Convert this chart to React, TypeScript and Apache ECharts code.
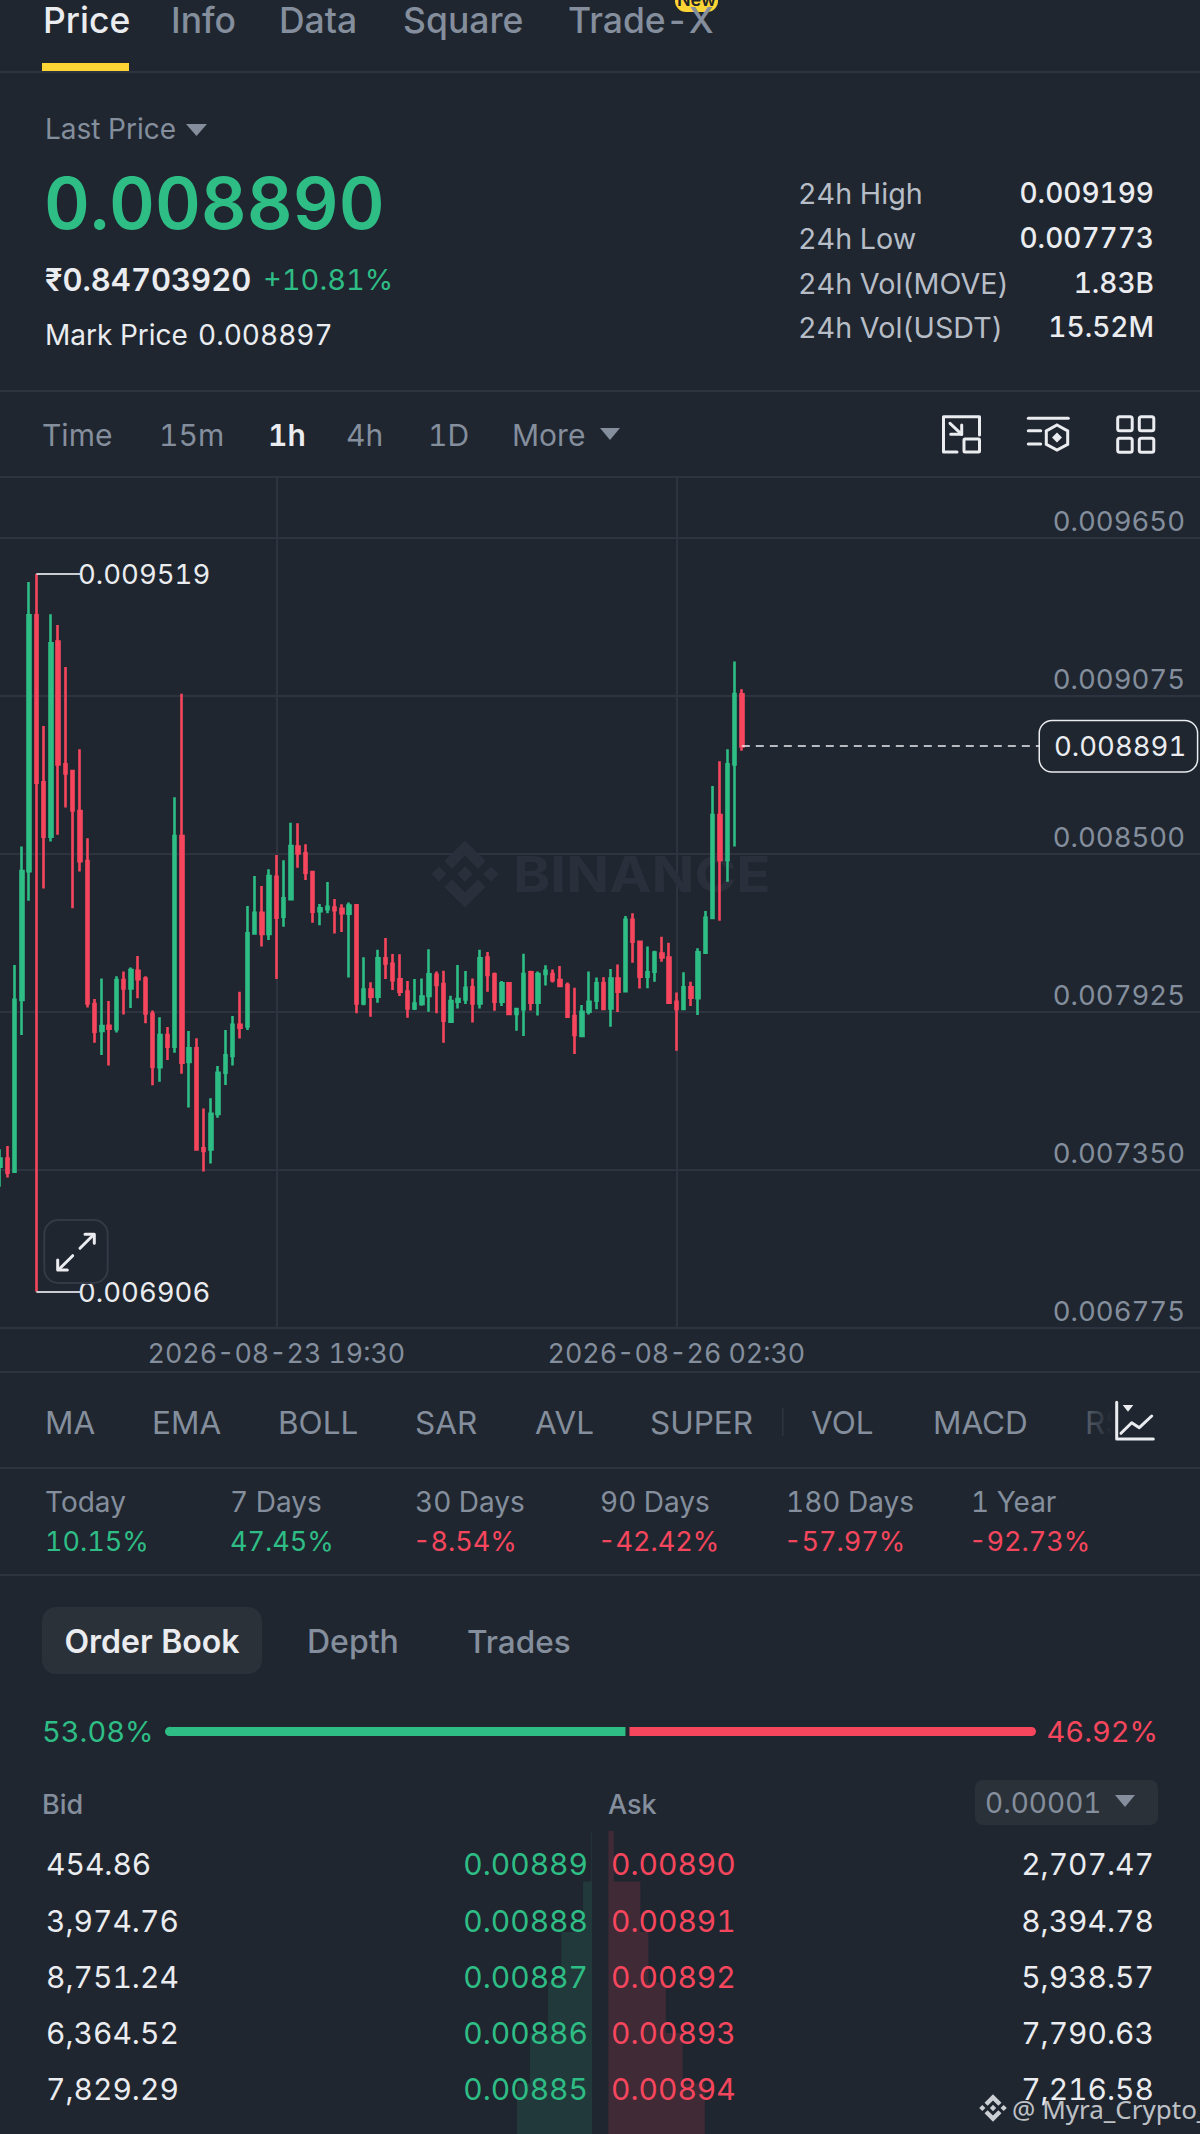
import React, { useEffect, useRef } from "react";
import * as echarts from "echarts";

const BG = "#1F2630";
const LINE = "#2D3440";
const GREEN = "#2EBD85";
const RED = "#F6465D";
const WHITE = "#EAECEF";
const GRAY = "#848E9C";
const SOFT = "#B7BDC6";
const CHIP = "#2B3139";
const FONT = "Inter";

const UNIT = 1e-6;
const OPENS = [7361,7391,7343,7968,8436,9368,8760,8562,9272,8825,8801,8655,8473,7953,7855,7874,7861,8040,8010,8074,8046,7917,7723,7840,7798,8564,7742,7792,7428,7424,7553,7703,7764,7877,7871,8210,8285,8208,8416,8271,8334,8526,8501,8433,8291,8298,8304,8299,8282,8312,7955,8006,7980,8119,8099,8043,7998,7937,7953,7982,8059,8026,7889,7961,7970,8014,7955,8122,8061,7961,8028,7917,7934,8068,7958,8062,8062,8040,8022,7909,7837,7925,7965,8028,7937,8046,8000,8259,8179,8052,8071,8137,8122,7961,7935,8014,7974,8140,8266,8641,8477,8825,9080];
const CLOSES = [7391,7339,7968,8437,9368,8758,8562,9266,8825,8792,8657,8473,7955,7852,7873,7863,8040,8010,8077,8043,7919,7725,7840,7798,8564,7739,7792,7424,7418,7553,7703,7766,7877,7867,8210,8285,8208,8419,8267,8338,8528,8501,8431,8289,8301,8307,8294,8283,8311,7955,8006,7980,8119,8101,8040,7998,7937,7955,7980,8061,8022,7892,7964,7971,8012,7955,8119,8059,7961,8028,7917,7935,8062,7958,8062,8074,8040,8019,7907,7840,7925,7961,8028,7935,8046,7998,8259,8180,8052,8068,8140,8122,7958,7935,8014,7976,8141,8267,8641,8477,8825,9081,8890];
const LOWS = [7288,7322,7343,7840,8329,6906,8373,8544,8569,8668,8301,8435,7940,7812,7767,7729,7849,7915,7938,7974,7883,7657,7670,7749,7776,7699,7576,7424,7343,7373,7539,7658,7729,7827,7858,8210,8162,8186,8044,8234,8334,8449,8404,8249,8240,8283,8210,8215,8049,7919,7948,7907,7958,8044,8004,7982,7903,7931,7947,7925,7919,7812,7886,7937,7953,7886,7937,7998,7928,7946,7913,7856,7837,7929,7911,8020,8031,8016,7907,7771,7834,7915,7934,7934,7870,7924,7998,8103,8009,8010,8034,8107,7953,7783,7934,7946,7913,8140,8264,8256,8398,8526,8875];
const HIGHS = [7424,7436,8095,8526,9489,9519,8965,9371,9332,9179,8801,8880,8556,7971,8046,7964,8054,8071,8086,8128,8054,7929,7905,7869,8705,9082,7855,7828,7573,7610,7727,7858,7909,7998,8310,8419,8382,8443,8495,8476,8613,8611,8534,8435,8317,8397,8335,8316,8322,8313,8123,8032,8150,8193,8135,8134,8037,8044,8046,8152,8071,8074,7983,8095,8073,8046,8150,8142,8068,8037,8032,7937,8136,8074,8071,8094,8079,8091,8031,8012,7949,8071,8049,8050,8080,8097,8273,8283,8180,8162,8147,8198,8176,7995,8069,8034,8156,8291,8746,8836,8880,9199,9098];

const Y_TICKS = [0.00965, 0.009075, 0.0085, 0.007925, 0.00735, 0.006775];
const Y_MIN = 0.006775;
const Y_MAX = 0.0098683;
const TIME_TICKS = ["2026-08-23 19:30", "2026-08-26 02:30"];
const FIRST_CANDLE_UTC = Date.UTC(2026, 7, 22, 5, 30);
const AXIS_SLOTS = 166;
const LAST_PRICE = 0.008891;
const HIGH_MARK = 0.009519;
const LOW_MARK = 0.006906;

const MAIN_TABS: [string, number][] = [["Price", 43], ["Info", 171], ["Data", 279], ["Square", 403], ["Trade-X", 568]];
const STAT_LABELS = ["24h High", "24h Low", "24h Vol(MOVE)", "24h Vol(USDT)"];
const STAT_VALUES = ["0.009199", "0.007773", "1.83B", "15.52M"];
const INTERVALS: [string, number][] = [["Time", 42], ["15m", 159], ["1h", 268], ["4h", 346], ["1D", 428], ["More", 512]];
const INDICATORS: [string, number][] = [["MA", 45], ["EMA", 152], ["BOLL", 278], ["SAR", 415], ["AVL", 535], ["SUPER", 650], ["VOL", 811], ["MACD", 933]];
const PERIODS = ["Today", "7 Days", "30 Days", "90 Days", "180 Days", "1 Year"];
const PERIOD_X = [45, 230, 415, 600, 786, 971];
const PERIOD_VALUES = ["10.15%", "47.45%", "-8.54%", "-42.42%", "-57.97%", "-92.73%"];
const BOOK_SPLIT = [53.08, 46.92];
const BID_QTY = ["454.86", "3,974.76", "8,751.24", "6,364.52", "7,829.29"];
const BID_PRICE = ["0.00889", "0.00888", "0.00887", "0.00886", "0.00885"];
const ASK_PRICE = ["0.00890", "0.00891", "0.00892", "0.00893", "0.00894"];
const ASK_QTY = ["2,707.47", "8,394.78", "5,938.57", "7,790.63", "7,216.58"];
const BOOK_ROWS = ["r1", "r2", "r3", "r4", "r5", "r6"];
const BID_DEPTH = [300, 3900, 13300, 19100, 27000, 32600];
const ASK_DEPTH = [2350, 13900, 17400, 25000, 32300, 41900];
const ROW_Y = [1864, 1921, 1977, 2033, 2089];

echarts.graphic.registerShape(
  "bnb",
  echarts.graphic.extendPath(
    "M12.116 14.404L16 10.52l3.886 3.886 2.26-2.26L16 6l-6.144 6.144 2.26 2.26zM6 16l2.26-2.26L10.52 16l-2.26 2.26L6 16zm6.116 1.596L16 21.48l3.886-3.886 2.26 2.259L16 26l-6.144-6.144-.003-.003 2.263-2.257zM21.48 16l2.26-2.26L26 16l-2.26 2.26L21.48 16zm-3.188-.002h.002V16L16 18.294l-2.291-2.29-.004-.004.004-.003.401-.402.195-.195L16 13.706l2.293 2.293z",
    {}
  )
);

function txt(text: string, x: number, y: number, fill: string, fontSize: number, fontWeight: number = 400, align: string = "left", family: string = FONT) {
  return {
    type: "text", x, y, z: 22,
    style: { text, fill, fontSize, fontWeight, fontFamily: family, align, textAlign: align, verticalAlign: "middle", textVerticalAlign: "middle" },
  };
}
function box(x: number, y: number, width: number, height: number, fill: string, r: number = 0, strokeColor: string = "none", lineWidth: number = 0) {
  return { type: "rect", z: 20, shape: { x, y, width, height, r }, style: { fill, stroke: strokeColor, lineWidth } };
}
function stroke(points: number[][], color: string = WHITE, lineWidth: number = 3) {
  return { type: "polyline", z: 21, shape: { points }, style: { stroke: color, lineWidth, fill: "none", lineCap: "round", lineJoin: "round" } };
}
function tri(x: number, y: number, w: number, h: number, fill: string) {
  return { type: "polygon", z: 21, shape: { points: [[x, y], [x + w, y], [x + w / 2, y + h]] }, style: { fill } };
}
function divider(y: number) {
  return box(0, y - 1, 1200, 2, LINE);
}

function buildFront(): any[] {
  const els: any[] = [];
  MAIN_TABS.forEach(([t, x], i) => els.push(txt(t, x, 20, i === 0 ? WHITE : GRAY, 35.5, 500)));
  els.push(box(42, 63, 87, 9, "#FCD535"));
  els.push(box(675, -10, 43, 22, "#FCD535", 11));
  els.push(txt("New", 696.5, -1, "#1E2329", 18, 600, "center"));
  els.push(divider(72));
  els.push(txt("Last Price", 45, 129, GRAY, 28));
  els.push(tri(186, 124, 21, 12, GRAY));
  els.push(txt("0.008890", 44, 203, GREEN, 71, 600));
  els.push(txt("₹0.84703920", 45, 279, WHITE, 31, 600));
  els.push(txt("+10.81%", 263, 279, GREEN, 29));
  els.push(txt("Mark Price", 45, 335, WHITE, 28));
  els.push(txt("0.008897", 198, 335, WHITE, 28));
  STAT_LABELS.forEach((t, i) => {
    const y = [193, 238, 283, 327][i];
    els.push(txt(t, 798, y, SOFT, 28.7));
    els.push(txt(STAT_VALUES[i], 1154, y, WHITE, 28, 500, "right"));
  });
  els.push(divider(391));
  INTERVALS.forEach(([t, x]) => els.push(txt(t, x, 435, t === "1h" ? WHITE : GRAY, 30, t === "1h" ? 600 : 400)));
  els.push(tri(600, 428, 20, 12, GRAY));
  els.push(stroke([[957, 452], [943.5, 452], [943.5, 416.7], [979.5, 416.7], [979.5, 435]]));
  els.push(box(964, 439, 15.5, 13, "none", 1, WHITE, 3));
  els.push(stroke([[950, 423.3], [961.7, 434.3]]));
  els.push(stroke([[961.7, 425], [961.7, 434.3], [950.7, 434.3]]));
  els.push(stroke([[1028.3, 418.3], [1068.3, 418.3]]));
  els.push(stroke([[1028.3, 430.7], [1040.7, 430.7]]));
  els.push(stroke([[1028.3, 444], [1040.7, 444]]));
  els.push({ type: "polygon", z: 21, shape: { points: [[1057, 425], [1067.7, 431], [1067.7, 444.3], [1057, 450], [1046.3, 444.3], [1046.3, 431]] }, style: { fill: "none", stroke: WHITE, lineWidth: 3 } });
  els.push({ type: "polygon", z: 21, shape: { points: [[1057, 432.5], [1062, 437.5], [1057, 442.5], [1052, 437.5]] }, style: { fill: WHITE } });
  [[1117.7, 416.7], [1139.3, 416.7], [1117.7, 438.3], [1139.3, 438.3]].forEach(([x, y]) => els.push(box(x, y, 14.5, 14, "none", 2, WHITE, 3)));
  els.push(divider(477));
  els.push(box(44.3, 1220, 63.4, 63, BG, 14, "#343A45", 2));
  els.push(stroke([[80, 1248.3], [93.3, 1235]]));
  els.push(stroke([[85, 1234.3], [94.3, 1234.3], [94.3, 1243.3]]));
  els.push(stroke([[72.7, 1255.7], [59.3, 1269]]));
  els.push(stroke([[57.7, 1260], [57.7, 1270], [67.3, 1270]]));
  els.push(divider(1372));
  INDICATORS.forEach(([t, x]) => els.push(txt(t, x, 1422, GRAY, 31.5)));
  els.push(box(782, 1408, 1.5, 28, LINE));
  els.push(txt("RSI", 1085, 1422, GRAY, 31.5));
  els.push({
    type: "rect", z: 23,
    shape: { x: 1078, y: 1400, width: 122, height: 44 },
    style: { fill: { type: "linear", x: 0, y: 0, x2: 1, y2: 0, colorStops: [{ offset: 0, color: "rgba(31,38,48,0.3)" }, { offset: 0.28, color: BG }, { offset: 1, color: BG }] } },
  });
  const ind = [stroke([[1116.7, 1402.3], [1116.7, 1439], [1153.3, 1439]]), stroke([[1121, 1433.3], [1131.7, 1422.7], [1139.3, 1427.7], [1151.7, 1416]]), { type: "polygon", shape: { points: [[1122.7, 1405], [1133.3, 1405], [1128, 1411.7]] }, style: { fill: WHITE } }];
  ind.forEach((e: any) => { e.z = 24; els.push(e); });
  els.push(divider(1468));
  PERIODS.forEach((t, i) => {
    const down = PERIOD_VALUES[i].startsWith("-");
    els.push(txt(t, PERIOD_X[i], 1502, GRAY, 28));
    els.push(txt(PERIOD_VALUES[i], PERIOD_X[i] - (down ? 2 : 0), 1541, down ? RED : GREEN, 27));
  });
  els.push(divider(1575));
  els.push(box(42, 1607, 220, 67, CHIP, 14));
  els.push(txt("Order Book", 152, 1641, WHITE, 32, 600, "center"));
  els.push(txt("Depth", 307, 1641, GRAY, 32, 500));
  els.push(txt("Trades", 467, 1641, GRAY, 31.5, 500));
  els.push(txt("53.08%", 42, 1731, GREEN, 29));
  els.push(txt("46.92%", 1158, 1731, RED, 29, 400, "right"));
  els.push(txt("Bid", 42, 1804, GRAY, 27, 500));
  els.push(txt("Ask", 608, 1804, GRAY, 27, 500));
  els.push(box(975, 1780, 183, 45, CHIP, 8));
  els.push(txt("0.00001", 985, 1803, GRAY, 28));
  els.push(tri(1115, 1795, 20, 12, GRAY));
  ROW_Y.forEach((y, i) => {
    els.push(txt(BID_QTY[i], 46, y, WHITE, 30));
    els.push(txt(BID_PRICE[i], 588, y, GREEN, 30, 400, "right"));
    els.push(txt(ASK_PRICE[i], 611, y, RED, 30));
    els.push(txt(ASK_QTY[i], 1154, y, WHITE, 30, 400, "right"));
  });
  els.push({ type: "bnb", z: 25, x: 993 - 16 * 1.38, y: 2108 - 16 * 1.38, scaleX: 1.38, scaleY: 1.38, style: { fill: "rgba(234,236,239,0.85)" } });
  const mark: any = txt("@ Myra_Crypto_", 1012, 2109, "rgba(234,236,239,0.8)", 26, 400, "left", "Noto Sans");
  mark.z = 25;
  els.push(mark);
  return els;
}

function buildBack(): any[] {
  const word: any = txt("BINANCE", 513, 874, "#2A303B", 50, 700);
  word.z = 1;
  word.scaleX = 1.13;
  return [
    { type: "bnb", z: 1, x: 465 - 16 * 3.35, y: 874 - 16 * 3.35, scaleX: 3.35, scaleY: 3.35, style: { fill: "#2A303B" } },
    word,
  ];
}

function buildOption(): any {
  const categories = Array.from({ length: AXIS_SLOTS }, (_, i) => {
    const iso = new Date(FIRST_CANDLE_UTC + i * 3600000).toISOString();
    return iso.slice(0, 10) + " " + iso.slice(11, 16);
  });
  const candles = OPENS.map((o, i) => [o * UNIT, CLOSES[i] * UNIT, LOWS[i] * UNIT, HIGHS[i] * UNIT]);
  const isTimeTick = (_: number, v: string) => TIME_TICKS.includes(v);
  const hiddenValue = (gridIndex: number, max: number, inverse = false) => ({ type: "value", gridIndex, min: 0, max, inverse, show: false });
  const hiddenRows = (gridIndex: number) => ({ type: "category", gridIndex, inverse: true, data: BOOK_ROWS, show: false });
  const markLabel = { show: true, position: "end", distance: -2, color: WHITE, fontSize: 27.5, fontFamily: FONT };
  const thin = { color: "#C9CDD3", width: 2, type: "solid" };
  return {
    animation: false,
    backgroundColor: BG,
    grid: [
      { left: -0.6, top: 477.7, width: 7.296 * (AXIS_SLOTS - 1), height: 850 },
      { left: 362, top: 1831, width: 230, height: 337.2 },
      { left: 608.4, top: 1831, width: 230, height: 337.2 },
      { left: 163, top: 1723, width: 875, height: 17 },
    ],
    xAxis: [
      {
        type: "category", gridIndex: 0, data: categories, boundaryGap: false,
        axisLine: { show: false }, axisTick: { show: false },
        axisLabel: { interval: isTimeTick, color: GRAY, fontSize: 26.8, fontFamily: FONT, margin: 12 },
        splitLine: { show: true, interval: isTimeTick, lineStyle: { color: LINE, width: 2 } },
      },
      hiddenValue(1, 100000, true),
      hiddenValue(2, 100000),
      hiddenValue(3, 100),
    ],
    yAxis: [
      {
        type: "value", gridIndex: 0, position: "right", min: Y_MIN, max: Y_MAX, scale: true,
        axisLine: { show: false },
        axisTick: { show: false, customValues: Y_TICKS },
        axisLabel: {
          inside: true, margin: 15, color: GRAY, fontSize: 27.5, fontFamily: FONT,
          customValues: Y_TICKS, verticalAlign: "bottom", lineHeight: 34,
          formatter: (v: number) => v.toFixed(6),
        },
        splitLine: { show: true, lineStyle: { color: LINE, width: 2 } },
      },
      hiddenRows(1),
      hiddenRows(2),
      { type: "category", gridIndex: 3, data: ["split"], show: false },
    ],
    graphic: { elements: [...buildBack(), ...buildFront()] },
    series: [
      {
        type: "candlestick", xAxisIndex: 0, yAxisIndex: 0, data: candles, barWidth: 3, z: 3,
        itemStyle: { color: GREEN, color0: RED, borderColor: GREEN, borderColor0: RED, borderWidth: 2.6 },
        markLine: {
          silent: true, symbol: ["none", "none"], animation: false,
          data: [
            [
              { coord: [5, HIGH_MARK], lineStyle: thin, label: { ...markLabel, formatter: () => HIGH_MARK.toFixed(6) } },
              { coord: [11, HIGH_MARK] },
            ],
            [
              { coord: [5, LOW_MARK], lineStyle: thin, label: { ...markLabel, formatter: () => LOW_MARK.toFixed(6) } },
              { coord: [11, LOW_MARK] },
            ],
            [
              {
                coord: [102, LAST_PRICE], lineStyle: { color: WHITE, width: 1.6, type: [8, 6] },
                label: {
                  ...markLabel, distance: 0, formatter: () => LAST_PRICE.toFixed(6), backgroundColor: BG,
                  borderColor: WHITE, borderWidth: 1.5, borderRadius: 12, padding: [11, 22, 11, 14],
                },
              },
              { coord: [143, LAST_PRICE] },
            ],
          ],
        },
      },
      {
        type: "bar", xAxisIndex: 1, yAxisIndex: 1, data: BID_DEPTH, barWidth: "100%", silent: true,
        itemStyle: { color: "rgba(46,189,133,0.13)" },
      },
      {
        type: "bar", xAxisIndex: 2, yAxisIndex: 2, data: ASK_DEPTH, barWidth: "100%", silent: true,
        itemStyle: { color: "rgba(246,70,93,0.15)" },
      },
      {
        type: "bar", xAxisIndex: 3, yAxisIndex: 3, stack: "split", barWidth: 13, data: [BOOK_SPLIT[0]], silent: true,
        itemStyle: { color: GREEN, borderColor: BG, borderWidth: 2, borderRadius: [8, 0, 0, 8] },
      },
      {
        type: "bar", xAxisIndex: 3, yAxisIndex: 3, stack: "split", barWidth: 13, data: [BOOK_SPLIT[1]], silent: true,
        itemStyle: { color: RED, borderColor: BG, borderWidth: 2, borderRadius: [0, 8, 8, 0] },
      },
    ],
  };
}

export default function App() {
  const ref = useRef<HTMLDivElement>(null);
  useEffect(() => {
    document.body.style.margin = "0";
    document.body.style.background = BG;
    const chart = echarts.init(ref.current!, undefined, { renderer: "svg" });
    chart.setOption(buildOption());
    return () => chart.dispose();
  }, []);
  return <div ref={ref} style={{ width: 1200, height: 2134, overflow: "hidden", fontVariantNumeric: "tabular-nums" }} />;
}
